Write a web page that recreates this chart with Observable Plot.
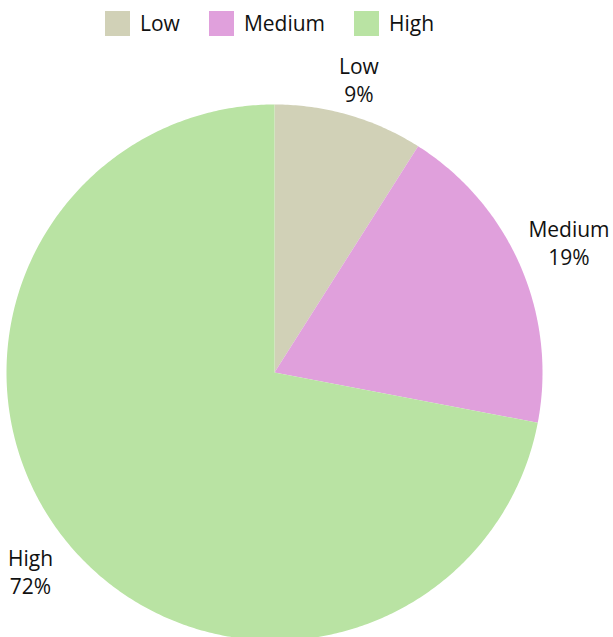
<!DOCTYPE html>
<html>
<head>
<meta charset="utf-8">
<script src="https://cdn.jsdelivr.net/npm/d3@7"></script>
<script src="https://cdn.jsdelivr.net/npm/@observablehq/plot@0.6"></script>
<style>
  html, body { margin: 0; padding: 0; background: #fff; overflow: hidden; width: 613px; height: 637px; }
  #wrap { position: relative; width: 613px; height: 637px; font-family: "Open Sans", sans-serif; }
  #legend { position: absolute; left: 105px; top: 10px; display: flex; align-items: center; font-size: 21px; color: #111; line-height: 27px; }
  .item { display: flex; align-items: center; margin-right: 29px; }
  .sw { width: 25px; height: 25px; margin-right: 10px; }
  #chart { position: absolute; left: 0; top: 0; }
</style>
</head>
<body>
<div id="wrap">
  <div id="chart"></div>
  <div id="legend"></div>
</div>
<script>
const categories = ["Low", "Medium", "High"];
const values = [9, 19, 72];
const colors = ["#d1d1b7", "#e0a0dc", "#b9e3a3"];

const total = d3.sum(values);
const slices = [];
const labels = [];
let acc = 0;
categories.forEach((c, i) => {
  const a0 = acc / total * 2 * Math.PI;
  acc += values[i];
  const a1 = acc / total * 2 * Math.PI;
  const n = Math.max(2, Math.ceil((a1 - a0) / 0.01));
  slices.push({cat: c, x: 0, y: 0});
  for (let k = 0; k <= n; k++) {
    const a = a0 + (a1 - a0) * k / n;
    slices.push({cat: c, x: Math.sin(a), y: Math.cos(a)});
  }
  const am = (a0 + a1) / 2;
  const r = 1.10 + 0.106 * Math.abs(Math.sin(am));
  labels.push({cat: c, text: `${c}\n${values[i]}%`, x: Math.sin(am) * r, y: Math.cos(am) * r});
});

const plot = Plot.plot({
  width: 613,
  height: 637,
  margin: 0,
  style: {fontFamily: "'Open Sans', sans-serif", background: "transparent", overflow: "visible"},
  x: {domain: [-1, 1], range: [6, 542], axis: null},
  y: {domain: [-1, 1], range: [640, 104], axis: null},
  color: {domain: categories, range: colors},
  marks: [
    Plot.line(slices, {x: "x", y: "y", z: "cat", fill: "cat", stroke: "none", curve: "linear-closed"}),
    Plot.text(labels, {x: "x", y: "y", text: "text", fontSize: 21, lineHeight: 1.33, fill: "#111", textAnchor: "middle", dy: -3})
  ]
});
document.getElementById("chart").appendChild(plot);

const legend = document.getElementById("legend");
categories.forEach((c, i) => {
  const item = document.createElement("div");
  item.className = "item";
  const sw = document.createElement("div");
  sw.className = "sw";
  sw.style.background = colors[i];
  const t = document.createElement("span");
  t.textContent = c;
  item.appendChild(sw);
  item.appendChild(t);
  legend.appendChild(item);
});
</script>
</body>
</html>
